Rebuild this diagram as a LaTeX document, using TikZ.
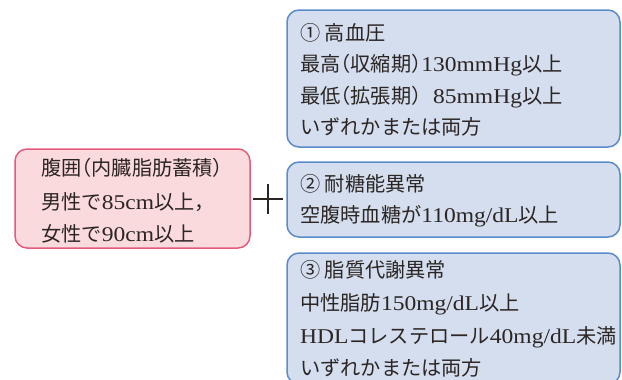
\documentclass[tikz,border=0pt]{standalone}
\usepackage{fontspec}
\setmainfont{Liberation Serif}[Scale=1.04, FakeStretch=1.12]
\newfontfamily\jp{Noto Sans CJK JP}[RawFeature=+halt]
\definecolor{pinkfill}{HTML}{FADADD}
\definecolor{pinkline}{HTML}{E35B7D}
\definecolor{bluefill}{HTML}{D4DEEF}
\definecolor{blueline}{HTML}{5A8ACB}
\definecolor{ink}{HTML}{2B2523}
\tikzset{
  pinkbox/.style={draw=pinkline, fill=pinkfill, line width=1.5pt, rounded corners=12pt, minimum width=235pt, inner sep=0pt},
  bluebox/.style={draw=blueline, fill=bluefill, line width=1.5pt, rounded corners=12pt, minimum width=333pt, inner sep=0pt},
  txt/.style={anchor=base west, inner sep=0pt, text=ink, font=\fontsize{20.2}{24}\selectfont},
}
\begin{document}
\begin{tikzpicture}[x=1pt,y=-1pt]
\useasboundingbox (0,0) rectangle (622,380);
\clip (0,0) rectangle (622,380);
% boxes
\node[pinkbox, minimum height=99pt] (waist) at (132.5,198.5) {};
\node[bluebox, minimum height=137pt] (bp) at (453.5,78.5) {};
\node[bluebox, minimum height=75pt] (glu) at (453.5,199.5) {};
\node[bluebox, minimum height=131pt] (lip) at (453.5,318.5) {};
% plus sign
\coordinate (plus) at (268,199);
\draw[ink, line width=2pt] (plus) ++(-15,0) -- ++(30,0);
\draw[ink, line width=2pt] (plus) ++(0,-15) -- ++(0,30);
% waist text
\node[txt] (w1) at (41,175.5) {{\jp 腹囲（内臓脂肪蓄積）}};
\node[txt] (w2) at (41,209) {{\jp 男性で}85cm{\jp 以上，}};
\node[txt] (w3) at (41,241) {{\jp 女性で}90cm{\jp 以上}};
% blood pressure
\node[txt] (b1) at (300,40) {{\jp ① 高血圧}};
\node[txt] (b2) at (300,71.5) {{\jp 最高（収縮期）}130mmHg{\jp 以上}};
\node[txt] (b3) at (300,103) {{\jp 最低（拡張期）}\phantom{1}85mmHg{\jp 以上}};
\node[txt] (b4) at (300,134.5) {{\jp いずれかまたは両方}};
% glucose
\node[txt] (g1) at (300,191) {{\jp ② 耐糖能異常}};
\node[txt] (g2) at (300,222.5) {{\jp 空腹時血糖が}110mg/dL{\jp 以上}};
% lipid
\node[txt] (l1) at (300,277.5) {{\jp ③ 脂質代謝異常}};
\node[txt] (l2) at (300,310) {{\jp 中性脂肪}150mg/dL{\jp 以上}};
\node[txt] (l3) at (300,343.5) {HDL{\jp コレステロール}40mg/dL{\jp 未満}};
\node[txt] (l4) at (300,375) {{\jp いずれかまたは両方}};
\end{tikzpicture}
\end{document}
